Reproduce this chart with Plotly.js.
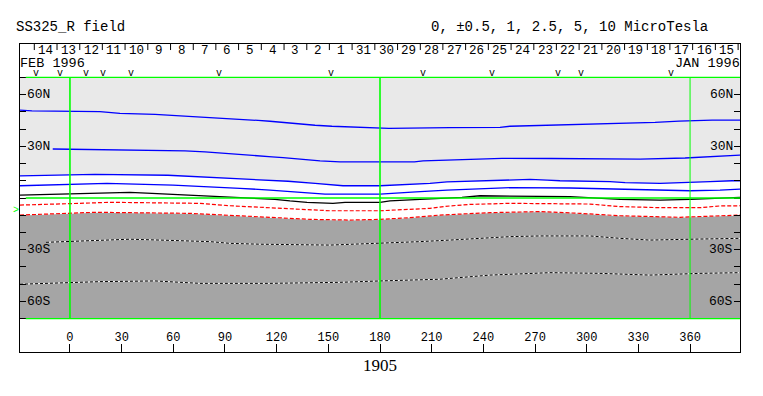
<!DOCTYPE html>
<html>
<head>
<meta charset="utf-8">
<script src="https://cdn.plot.ly/plotly-3.0.1.min.js"></script>
<style>html,body{margin:0;padding:0;background:#fff}#chart{width:763px;height:396px}</style>
</head>
<body>
<div id="chart"></div>
<script>
// ---- data (longitude / latitude of each contour) ----
const l1Lon = [-29.0,-22.1,17.4,29.0,49.4,63.9,74.3,84.2,94.1,103.4,109.2,116.1,121.9,127.7,134.7,142.3,152.1,166.6,185.2,220.6,249.7,255.5,278.7,297.9,328.1,339.7,353.6,372.8,389.0];
const l1Lat = [51.0,50.5,50.1,49.1,48.5,47.7,47.1,46.6,46.2,45.6,45.0,44.5,43.9,43.3,42.7,42.2,41.6,41.0,40.4,40.8,41.0,41.6,42.2,42.7,43.3,43.9,44.6,45.2,45.2];

const l2Lon = [-10.0,49.4,66.8,78.4,87.1,96.4,105.7,110.9,117.3,123.7,129.5,137.0,145.2,156.8,200.0,205.0,218.3,232.3,250.8,279.5,331.0,357.1,370.5,389.0];
const l2Lat = [28.4,27.8,27.3,26.7,26.1,25.5,25.1,24.5,23.9,23.4,22.8,22.0,21.5,20.9,20.9,21.5,22.0,22.6,23.0,22.9,22.6,23.2,23.8,24.9];

const l3Lon = [-29.0,14.5,56.9,69.7,81.3,92.9,106.3,116.1,126.6,142.3,158.5,180.0,200.9,209.0,218.9,235.2,255.5,267.1,277.0,284.5,313.5,322.3,342.6,360.0,371.6,384.4,389.0];
const l3Lat = [12.8,13.7,13.2,12.6,12.0,11.4,10.8,10.3,9.7,8.5,7.1,7.1,7.9,8.5,9.3,9.9,10.4,10.8,10.4,10.0,9.5,8.9,8.5,8.9,9.5,10.0,10.0];

const l4Lon = [-29.0,-17.4,0.0,21.5,59.8,81.3,98.7,116.1,135.3,148.1,180.0,188.7,200.9,218.9,255.5,290.3,313.5,336.8,360.0,377.4,389.0];
const l4Lat = [7.1,7.5,7.9,8.5,7.5,6.6,5.6,4.6,3.1,2.3,2.3,2.7,3.5,4.6,6.0,5.8,5.2,4.6,4.2,4.6,5.2];

const l5Lon = [-29.0,-1.2,11.6,34.8,47.6,75.5,104.5,119.0,127.7,137.6,152.7,159.7,180.0,185.8,203.2,218.9,227.6,238.1,290.3,319.4,342.6,360.0,377.4,389.0];
const l5Lat = [1.7,2.3,2.7,3.3,2.7,1.2,0.0,-0.8,-1.7,-2.5,-3.1,-2.5,-2.5,-1.7,-0.8,-0.2,0.4,1.3,0.8,-0.8,-1.2,-0.8,-0.2,0.4];

const l6Lon = [-29.0,0.0,5.8,23.2,75.5,92.9,110.3,127.7,151.0,180.0,188.7,209.0,220.6,232.3,255.5,301.9,319.4,342.6,365.8,377.4,389.0];
const l6Lat = [-4.1,-3.5,-3.1,-2.5,-3.1,-4.5,-5.4,-6.6,-7.4,-7.4,-7.0,-6.0,-4.6,-3.7,-3.1,-3.5,-5.0,-5.6,-5.6,-4.6,-4.5];

const l7Lon = [-29.0,-8.7,14.5,69.7,98.7,116.1,139.4,162.6,180.0,197.4,214.8,243.9,272.9,296.1,319.4,354.2,377.4,389.0];
const l7Lat = [-9.9,-9.3,-8.3,-8.9,-10.3,-11.2,-12.4,-12.8,-12.4,-11.4,-9.9,-8.5,-7.9,-8.9,-10.3,-11.2,-10.3,-9.9];

const l8Lon = [-13.9,0.0,10.5,34.8,52.3,81.3,92.9,110.3,151.0,165.5,180.0,191.6,203.2,220.6,255.5,272.9,301.9,319.4,336.8,360.0,389.0];
const l8Lat = [-25.7,-25.2,-24.5,-23.9,-24.4,-25.3,-26.3,-26.8,-27.3,-26.8,-26.3,-25.9,-25.3,-24.4,-22.4,-22.0,-22.0,-23.4,-24.4,-23.9,-23.4];

const l9Lon = [-29.0,-14.5,0.0,17.4,49.4,75.5,116.1,156.8,180.0,214.8,243.9,278.7,307.7,336.8,365.8,389.0];
const l9Lat = [-50.0,-49.5,-49.1,-48.5,-48.1,-49.5,-49.5,-48.9,-48.1,-47.1,-44.7,-43.3,-43.7,-44.7,-43.7,-43.3];

// orbit date band
const dateTicks = [-20.7,-7.5,5.7,18.8,32.0,45.2,58.4,71.6,84.7,97.9,111.1,124.3,137.5,150.6,163.8,177.0,190.2,203.4,216.5,229.7,242.9,256.1,269.3,282.4,295.6,308.8,322.0,335.2,348.3,361.5,374.7,387.9];
const dateLabels = ['14','13','12','11','10','9','8','7','6','5','4','3','2','1','31','30','29','28','27','26','25','24','23','22','21','20','19','18','17','16','15'];
const vMarks = [-19.7,-5.8,9.1,19.3,35.2,86.5,151.5,205.1,245.2,283.2,296.7,349.0];

// axes
const lonTicks = [0,30,60,90,120,150,180,210,240,270,300,330,360];
const latTicks = [-80,-70,-60,-50,-40,-30,-20,-10,0,10,20,30,40,50,60,70];
const latLabelVals = [60,30,-30,-60];
const latLabelText = ['60N','30N','30S','60S'];
const meridians = [0,180,360];
const parallels = [70,0,-70];
const dataTop = 70, dataBot = -70;

const MONO = 'Liberation Mono, DejaVu Sans Mono, monospace';
const LIGHT = '#e9e9e9', DARK = '#a5a5a5';

function closeTo(lon, lat, edge){
  return {x: lon.concat([lon[lon.length-1], lon[0]]), y: lat.concat([edge, edge])};
}
const lf = closeTo(l3Lon, l3Lat, dataTop);
const df = closeTo(l7Lon, l7Lat, dataBot);

const traces = [
  {x: lf.x, y: lf.y, fill:'toself', fillcolor: LIGHT, mode:'none', hoverinfo:'skip'},
  {x: df.x, y: df.y, fill:'toself', fillcolor: DARK, mode:'none', hoverinfo:'skip'},
  {x: l1Lon, y: l1Lat, mode:'lines', line:{color:'#0000ff', width:1.3}},
  {x: l2Lon, y: l2Lat, mode:'lines', line:{color:'#0000ff', width:1.3}},
  {x: l3Lon, y: l3Lat, mode:'lines', line:{color:'#0000ff', width:1.3}},
  {x: l4Lon, y: l4Lat, mode:'lines', line:{color:'#0000ff', width:1.3}},
  {x: l5Lon, y: l5Lat, mode:'lines', line:{color:'#000000', width:1.3}},
  {x: l6Lon, y: l6Lat, mode:'lines', line:{color:'#ff0000', width:1.2, dash:'4px,2px'}},
  {x: l7Lon, y: l7Lat, mode:'lines', line:{color:'#ffffff', width:1}},
  {x: l7Lon, y: l7Lat, mode:'lines', line:{color:'#ff0000', width:1.2, dash:'4px,2px'}},
  {x: l8Lon, y: l8Lat, mode:'lines', line:{color:'#ffffff', width:1}},
  {x: l8Lon, y: l8Lat, mode:'lines', line:{color:'#000000', width:1, dash:'3px,2px'}},
  {x: l9Lon, y: l9Lat, mode:'lines', line:{color:'#ffffff', width:1}},
  {x: l9Lon, y: l9Lat, mode:'lines', line:{color:'#000000', width:1, dash:'3px,2px'}}
];

// date-band tick marks
const tx = [], ty = [];
dateTicks.forEach(t => { tx.push(t, t, null); ty.push(89.3, 85.8, null); });
traces.push({x: tx, y: ty, mode:'lines', line:{color:'#000', width:1}, hoverinfo:'skip'});

const shapes = [];
meridians.forEach((m, i) => shapes.push({type:'line', xref:'x', yref:'y', x0:m, x1:m, y0:dataBot, y1:dataTop,
  line:{color:'#00ff00', width: i===2 ? 1 : 1.6}, layer:'above'}));
parallels.forEach(p => shapes.push({type:'line', xref:'paper', yref:'y', x0:0.008, x1:1, y0:p, y1:p,
  line:{color:'#00ff00', width:1.3}, layer:'above'}));

const ann = [];
for (let i = 0; i < dateLabels.length; i++) {
  ann.push({x:(dateTicks[i]+dateTicks[i+1])/2, y:85.2, xref:'x', yref:'y', text:dateLabels[i], showarrow:false,
    font:{family:MONO, size:12.5, color:'#000'}, xanchor:'center', yanchor:'middle', borderpad:0});
}
vMarks.forEach(v => ann.push({x:v, y:72.4, xref:'x', yref:'y', text:'v', showarrow:false,
  font:{family:MONO, size:10, color:'#000'}, xanchor:'center', yanchor:'middle', borderpad:0}));
ann.push({x:0, y:78.2, xref:'paper', yref:'y', text:'FEB 1996', showarrow:false, xanchor:'left', yanchor:'middle',
  xshift:-1, borderpad:0, font:{family:MONO, size:13.5, color:'#000'}});
ann.push({x:1, y:78.2, xref:'paper', yref:'y', text:'JAN 1996', showarrow:false, xanchor:'right', yanchor:'middle',
  xshift:1, borderpad:0, font:{family:MONO, size:13.5, color:'#000'}});
latLabelVals.forEach((v, i) => {
  ann.push({x:0.0097, y:v, xref:'paper', yref:'y', text:latLabelText[i], showarrow:false, xanchor:'left', yanchor:'middle',
    xshift:-2, font:{family:MONO, size:13, color:'#000'}});
  ann.push({x:0.9917, y:v, xref:'paper', yref:'y', text:latLabelText[i], showarrow:false, xanchor:'right', yanchor:'middle',
    xshift:1, font:{family:MONO, size:13, color:'#000'}});
});
ann.push({x:-0.005, y:-7, xref:'paper', yref:'y', text:'>', showarrow:false, xanchor:'center', yanchor:'middle',
  font:{family:MONO, size:10, color:'#00ff00'}});
ann.push({x:-0.0056, y:1.055, xref:'paper', yref:'paper', text:'SS325_R field', showarrow:false, xanchor:'left', yanchor:'middle',
  xshift:-2, font:{family:MONO, size:14, color:'#000'}});
ann.push({x:0.571, y:1.055, xref:'paper', yref:'paper', text:'0, ±0.5, 1, 2.5, 5, 10 MicroTesla', showarrow:false, xanchor:'left', yanchor:'middle',
  xshift:-2, font:{family:MONO, size:14, color:'#000'}});
ann.push({x:0.5, y:-0.045, xref:'paper', yref:'paper', text:'1905', showarrow:false, xanchor:'center', yanchor:'middle',
  font:{family:'Liberation Serif, serif', size:17, color:'#000'}});

const layout = {
  width:763, height:396,
  margin:{l:20, r:23, t:44, b:44, pad:0},
  paper_bgcolor:'#fff', plot_bgcolor:'#fff',
  showlegend:false,
  xaxis:{range:[-29,389], showgrid:false, zeroline:false, showline:true, mirror:true, linecolor:'#000', linewidth:1,
    ticks:'inside', ticklen:8, tickcolor:'#000', tickvals:lonTicks, ticktext:lonTicks.map(String),
    ticklabelposition:'inside', tickfont:{family:MONO, size:12, color:'#000'}, fixedrange:true},
  yaxis:{range:[-89.3,89.3], showgrid:false, zeroline:false, showline:true, mirror:'ticks', linecolor:'#000', linewidth:1,
    ticks:'inside', ticklen:6, tickcolor:'#000', tickvals:latTicks, showticklabels:false, fixedrange:true},
  shapes:shapes,
  annotations:ann
};

Plotly.newPlot('chart', traces, layout, {staticPlot:true, displayModeBar:false});
</script>
</body>
</html>
